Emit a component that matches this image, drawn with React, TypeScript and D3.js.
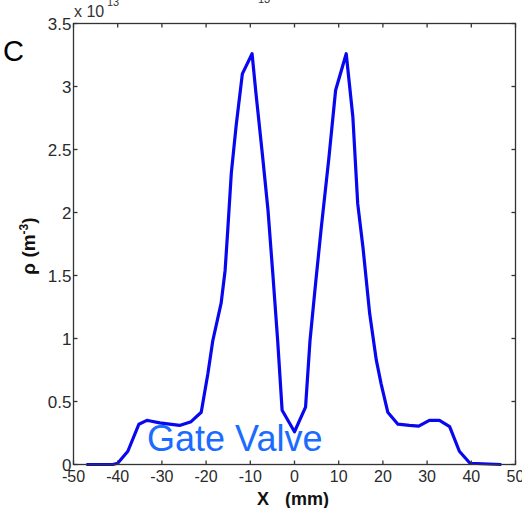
import React from "react";
import * as d3 from "d3";

const xs = [-47.1, -41.1, -40.0, -37.7, -35.2, -33.4, -32.6, -30.5, -26.0, -23.4, -21.1, -19.6, -18.5, -16.6, -15.7, -15.1, -14.3, -13.2, -11.8, -9.6, -8.7, -7.2, -6.0, -4.9, -3.8, -2.8, 0.0, 2.5, 3.5, 4.75, 6.0, 7.8, 9.3, 11.7, 13.2, 14.3, 15.5, 17.0, 18.5, 19.6, 21.1, 23.4, 26.0, 28.1, 30.5, 32.8, 35.1, 37.3, 39.7, 46.8];
const rho = [0, 0, 0.01, 0.105, 0.32, 0.35, 0.345, 0.33, 0.31, 0.34, 0.415, 0.72, 0.98, 1.28, 1.54, 1.86, 2.31, 2.69, 3.1, 3.26, 2.94, 2.44, 2.02, 1.51, 0.98, 0.43, 0.26, 0.455, 0.98, 1.43, 1.86, 2.44, 2.97, 3.26, 2.76, 2.07, 1.72, 1.2, 0.83, 0.64, 0.415, 0.32, 0.31, 0.305, 0.35, 0.35, 0.3, 0.105, 0.01, 0];
const xTicks = [-50, -40, -30, -20, -10, 0, 10, 20, 30, 40, 50];
const yTicks = [0, 0.5, 1, 1.5, 2, 2.5, 3, 3.5];
const yTickLabels = ["0", "0.5", "1", "1.5", "2", "2.5", "3", "3.5"];

const FONT = "'Liberation Sans', Arial, sans-serif";

export default function App() {
  const L = 73.5, R = 515.5, T = 23.5, B = 464.5;
  const x = d3.scaleLinear().domain([-50, 50]).range([L, R]);
  const y = d3.scaleLinear().domain([0, 3.5]).range([B, T]);
  const pts = xs.map((v, i) => [v, rho[i]] as [number, number]);
  const line = d3.line<[number, number]>().x(d => x(d[0])).y(d => y(d[1]));
  const tk = 4;
  return (
    <svg width={522} height={508} style={{ position: "absolute", left: 0, top: 0, background: "#fff" }} fontFamily={FONT}>
      <rect x={0} y={0} width={522} height={508} fill="#fff" />
      <path d={line(pts) || ""} fill="none" stroke="#0808f0" strokeWidth={3.2} strokeLinejoin="round" />
      <rect x={L} y={T} width={R - L} height={B - T} fill="none" stroke="#333" strokeWidth={1.3} />
      {xTicks.map(t => (
        <g key={"x" + t}>
          <line x1={x(t)} x2={x(t)} y1={B} y2={B - tk} stroke="#333" strokeWidth={1.3} />
          <line x1={x(t)} x2={x(t)} y1={T} y2={T + tk} stroke="#333" strokeWidth={1.3} />
          <text x={x(t)} y={B + 17} textAnchor="middle" fontSize={16} fill="#2a2a2a">{t}</text>
        </g>
      ))}
      {yTicks.map((t, i) => (
        <g key={"y" + t}>
          <line x1={L} x2={L + tk} y1={y(t)} y2={y(t)} stroke="#333" strokeWidth={1.3} />
          <line x1={R} x2={R - tk} y1={y(t)} y2={y(t)} stroke="#333" strokeWidth={1.3} />
          <text x={L - 2} y={y(t) + 6} textAnchor="end" fontSize={17} fill="#2a2a2a">{yTickLabels[i]}</text>
        </g>
      ))}
      <text x={74} y={17} fontSize={16} fill="#333">x 10</text>
      <text x={107} y={6} fontSize={11} fill="#333">13</text>
      <text x={258} y={3} fontSize={11} fill="#333">13</text>
      <text x={3} y={61} fontSize={29} fill="#000">C</text>
      <text x={147} y={451} fontSize={36} fill="#1a6bff">Gate Valve</text>
      <text x={257} y={505} fontSize={18} fontWeight="bold" fill="#111">X</text>
      <text x={285} y={505} fontSize={18} fontWeight="bold" fill="#111">(mm)</text>
      <g transform="translate(35,246) rotate(-90)">
        <text textAnchor="middle" fontSize={19} fontWeight="bold" fill="#111">
          ρ (m<tspan dy={-7} fontSize={12}>-3</tspan><tspan dy={7}>)</tspan>
        </text>
      </g>
    </svg>
  );
}
